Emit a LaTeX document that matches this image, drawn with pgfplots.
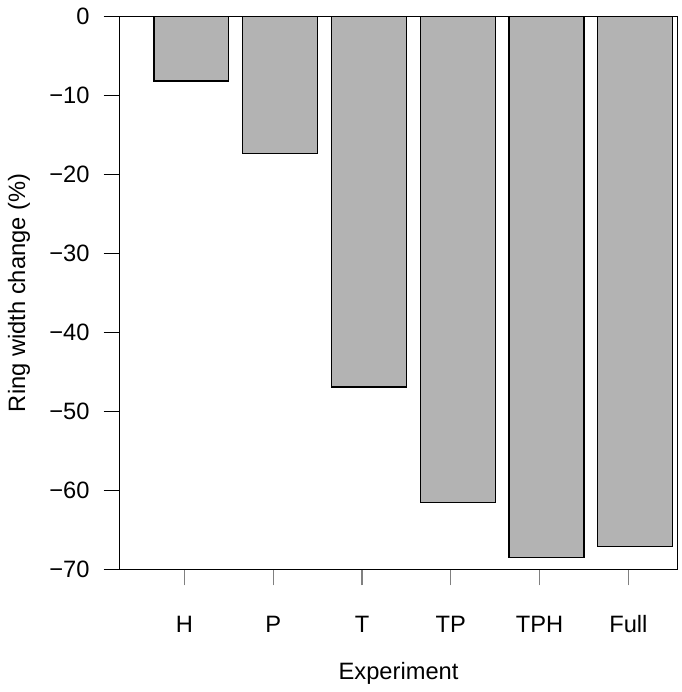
\documentclass[border=0pt]{standalone}
\usepackage{fontspec}
\setmainfont{Liberation Sans}
\usepackage{pgfplots}
\pgfplotsset{compat=1.18}
\definecolor{barGray}{HTML}{B3B3B3}
\begin{document}
\fontsize{12}{14}\selectfont
\begin{tikzpicture}
\begin{axis}[
  name=ax,
  scale only axis,
  width=283pt, height=280.5pt,
  xmin=0.189, xmax=6.478,
  ymin=-70, ymax=0,
  axis line style={black, line width=0.6pt},
  tick align=outside,
  major tick length=8pt,
  xtick pos=bottom, ytick pos=left,
  ytick={-70,-60,-50,-40,-30,-20,-10,0},
  yticklabels={−70,−60,−50,−40,−30,−20,−10,0},
  y tick style={black, line width=0.6pt},
  xtick={0.922,1.922,2.922,3.922,4.922,5.922},
  xticklabels={H,P,T,TP,TPH,Full},
  x tick style={gray, line width=0.6pt},
  yticklabel style={xshift=-3pt},
  xticklabel style={anchor=base, yshift=-24pt},
  ylabel={Ring width change (\%)},
  xlabel={Experiment},
  ylabel style={at={(axis description cs:-0.18,0.5)}, anchor=center},
  xlabel style={at={(axis description cs:0.5,-0.198)}, anchor=base},
]
\addplot[ybar, bar width=38pt, fill=barGray, draw=black, line width=0.6pt]
  coordinates {
    (1,-8.2)
    (2,-17.4)
    (3,-46.9)
    (4,-61.5)
    (5,-68.5)
    (6,-67.1)
  };
\end{axis}
\path ([shift={(-57.5pt,-60pt)}]ax.south west) rectangle ([shift={(2pt,5.5pt)}]ax.north east);
\end{tikzpicture}
\end{document}
